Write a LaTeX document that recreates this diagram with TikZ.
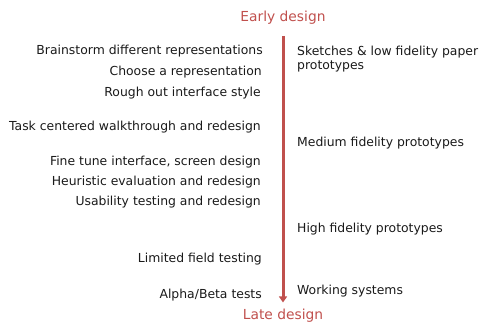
\documentclass[tikz,border=0pt]{standalone}
\usepackage{fontspec}
\setmainfont{DejaVu Sans}
\usetikzlibrary{arrows.meta}

\definecolor{phasered}{HTML}{C0504D}
\definecolor{itemgray}{HTML}{1A1A1A}

\tikzset{
  phase/.style={text=phasered,font=\fontsize{13.8}{16}\selectfont,inner sep=0pt},
  activity/.style={anchor=east,text=itemgray,font=\fontsize{12.4}{14}\selectfont,
    inner sep=0pt,text height=1.35ex,text depth=0.45ex},
  prototype/.style={activity,anchor=west},
  timeline/.style={draw=phasered,line width=3pt,-{Triangle[length=6pt,width=8pt]}}
}

\begin{document}
\begin{tikzpicture}[x=1pt,y=-1pt]
\useasboundingbox (0,0) rectangle (479,322);

% the two ends of the process
\node[phase] (early) at (283,18) {Early design};
\node[phase] (late) at (283,315.3) {Late design};
\draw[timeline,shorten <=11pt,shorten >=6pt] (early) -- (late);

% design activities, left of the line
\node[activity] (brainstorm) at (263,52) {Brainstorm different representations};
\node[activity] (choose) at (262,73) {Choose a representation};
\node[activity] (rough) at (261,94) {Rough out interface style};
\node[activity] (walkthrough) at (261,128) {Task centered walkthrough and redesign};
\node[activity] (finetune) at (261,163.5) {Fine tune interface, screen design};
\node[activity] (heuristic) at (261,183.5) {Heuristic evaluation and redesign};
\node[activity] (usability) at (261,203.5) {Usability testing and redesign};
\node[activity] (field) at (262,260.5) {Limited field testing};
\node[activity] (alphabeta) at (262,296.5) {Alpha/Beta tests};

% kinds of prototype, right of the line
\node[prototype,anchor=north west,align=left,text height=,text depth=,
  font=\fontsize{12.4}{13.8}\selectfont] (sketches) at (297,46)
  {Sketches \& low fidelity paper\\prototypes};
\node[prototype] (medium) at (297,144.5) {Medium fidelity prototypes};
\node[prototype] (high) at (297,230.5) {High fidelity prototypes};
\node[prototype] (working) at (297,292.5) {Working systems};
\end{tikzpicture}
\end{document}
